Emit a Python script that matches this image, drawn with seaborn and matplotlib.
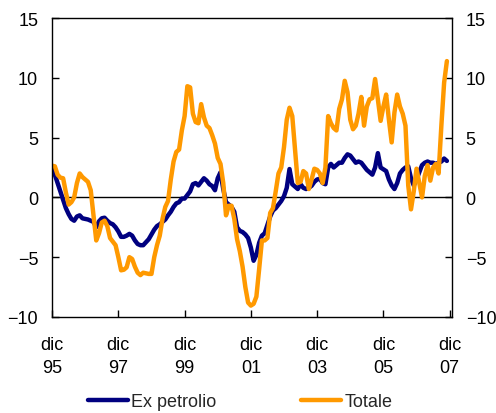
import numpy as np
import pandas as pd
import matplotlib
matplotlib.use("Agg")
import matplotlib.pyplot as plt
import seaborn as sns

# monthly data, dic 1995 -> nov 2007
totale = [2.65, 2.6, 1.9, 1.65, 1.6, 0.4, -0.6, -0.4, 0.0, 1.2,
          2.0, 1.7, 1.5, 1.3, 0.6, -1.5, -3.6, -3.0, -2.1, -1.95,
          -2.4, -3.4, -3.7, -4.0, -5.0, -6.1, -6.05, -5.85, -5.0, -5.15,
          -5.8, -6.3, -6.5, -6.3, -6.35, -6.4, -6.4, -5.0, -4.0, -3.2,
          -1.8, -0.8, -0.3, 1.5, 3.0, 3.8, 4.0, 5.6, 6.8, 9.3,
          9.2, 7.0, 6.3, 6.2, 7.8, 6.7, 6.0, 5.8, 5.2, 4.5,
          3.3, 2.8, 1.2, -1.5, -0.7, -0.7, -1.8, -3.5, -4.5, -5.8,
          -7.5, -8.8, -9.05, -8.9, -8.3, -6.0, -3.6, -3.6, -3.4, -1.3,
          -0.9, 0.5, 2.0, 2.5, 4.2, 6.5, 7.5, 6.8, 4.0, 1.2,
          1.3, 2.2, 2.0, 0.7, 1.5, 2.4, 2.3, 2.0, 1.2, 2.5,
          6.8, 6.2, 5.8, 5.6, 7.4, 8.2, 9.75, 8.8, 6.5, 5.7,
          6.0, 7.0, 8.4, 6.0, 7.6, 8.2, 8.3, 9.9, 8.2, 6.4,
          7.6, 8.6, 6.5, 4.6, 7.1, 8.6, 7.6, 7.0, 6.0, 1.0,
          -1.0, 0.5, 2.4, 1.2, 0.0, 1.8, 2.7, 1.4, 2.5, 2.8,
          2.0, 6.0, 9.6, 11.4]

ex_petrolio = [2.4, 1.9, 1.2, 0.5, -0.2, -0.9, -1.4, -1.8, -1.95, -1.6,
               -1.5, -1.75, -1.8, -1.85, -1.95, -2.05, -2.5, -2.0, -1.75, -1.7,
               -1.95, -2.15, -2.25, -2.5, -2.85, -3.3, -3.3, -3.2, -3.05, -3.2,
               -3.6, -3.9, -4.0, -4.0, -3.75, -3.5, -3.1, -2.7, -2.4, -2.25,
               -2.05, -1.85, -1.5, -1.2, -0.8, -0.5, -0.4, -0.1, -0.1, 0.2,
               0.5, 1.1, 1.2, 1.0, 1.3, 1.6, 1.4, 1.1, 0.95, 0.6,
               1.6, 2.1, 0.7, -0.4, -0.6, -0.8, -1.2, -2.5, -2.8, -2.9,
               -3.1, -3.4, -4.2, -5.3, -4.8, -3.8, -3.2, -3.0, -2.3, -1.6,
               -1.1, -0.9, -0.6, -0.3, 0.1, 0.8, 2.37, 1.1, 0.9, 0.7,
               1.1, 0.8, 0.7, 0.8, 0.97, 1.3, 1.5, 1.55, 1.2, 1.1,
               2.5, 2.8, 2.5, 2.7, 2.9, 2.9, 3.3, 3.6, 3.5, 3.2,
               2.9, 3.0, 2.9, 2.6, 2.3, 2.1, 1.9, 2.5, 3.7, 2.5,
               2.35, 2.2, 1.5, 1.0, 0.7, 1.2, 2.0, 2.3, 2.5, 2.6,
               1.6, 1.0, 1.5, 2.1, 2.7, 2.9, 3.0, 2.9, 2.9, 2.8,
               2.9, 3.0, 3.25, 3.05]

tick_labels = ["dic\n95", "dic\n97", "dic\n99", "dic\n01", "dic\n03", "dic\n05", "dic\n07"]

months = np.arange(len(totale))
df = pd.DataFrame({"mese": months, "Ex petrolio": ex_petrolio, "Totale": totale})

sns.set_style("white")
plt.rcParams['font.family'] = ['Liberation Sans', 'DejaVu Sans']

fig = plt.figure(figsize=(4.96, 4.14), dpi=100)
ax = fig.add_axes([0.105, 0.232, 0.806, 0.722])

ax.axhline(0, color="black", lw=1, zorder=1)
sns.lineplot(data=df, x="mese", y="Ex petrolio", color="#000080", lw=3.2, ax=ax, label="Ex petrolio")
sns.lineplot(data=df, x="mese", y="Totale", color="#FF9900", lw=3.2, ax=ax, label="Totale")

ax.set_xlim(0, 144.8)
ax.set_ylim(-10, 15)
ax.set_yticks([-10, -5, 0, 5, 10, 15])
ax.set_xticks(np.arange(0, 145, 24))
ax.set_xticklabels(tick_labels, linespacing=1.45)
ax.set_xlabel("")
ax.set_ylabel("")

for s in ax.spines.values():
    s.set_color("black")
    s.set_linewidth(1)

ax.tick_params(axis="both", direction="in", length=5, width=1, color="black",
               labelsize=13, labelcolor="black")
ax.tick_params(axis="y", left=True, right=True, labelleft=True, labelright=True, pad=10)
ax.tick_params(axis="x", bottom=True, pad=14)

leg = ax.legend(loc="center", bbox_to_anchor=(0.471, -0.283), ncol=2, frameon=False,
                fontsize=13, handlelength=2.2, columnspacing=4.7, handletextpad=0.2)

fig.savefig("out.png", dpi=100)
